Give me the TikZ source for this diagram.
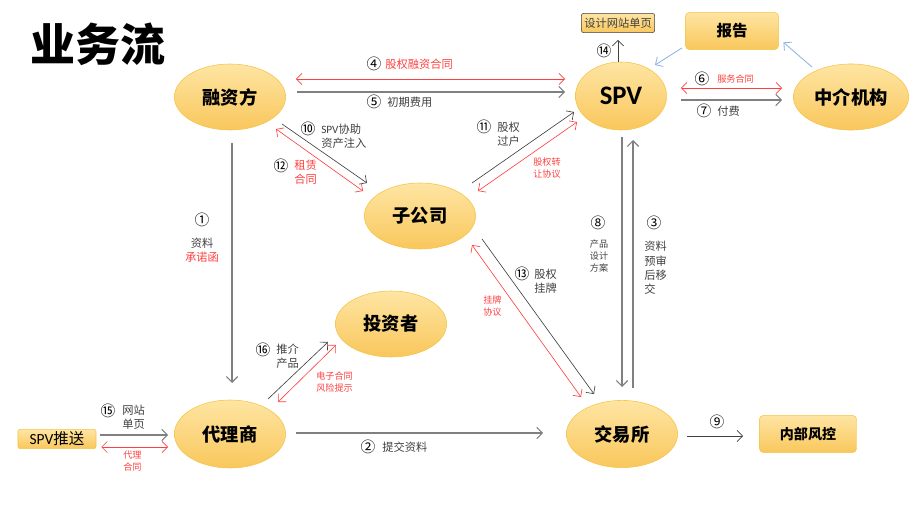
\documentclass[tikz,border=0pt]{standalone}
\usepackage{fontspec}
\setmainfont{Noto Sans CJK SC}
\newfontfamily\lat{Carlito}
\usetikzlibrary{positioning, arrows.meta, shapes.geometric, calc}
\definecolor{FillTop}{RGB}{254,229,163}
\definecolor{FillBot}{RGB}{249,199,92}
\definecolor{EdgeColor}{RGB}{246,196,72}
\definecolor{LineGray}{RGB}{128,128,128}
\definecolor{LineDark}{RGB}{64,64,64}
\definecolor{LineRed}{RGB}{255,64,64}
\definecolor{LineBlue}{RGB}{141,180,226}
\definecolor{TextGray}{RGB}{64,64,64}
\tikzstyle{party} = [ellipse, draw=EdgeColor, top color=FillTop, bottom color=FillBot, minimum width=2.78cm, minimum height=1.65cm, inner sep=0pt, font=\fontsize{13}{15}\selectfont\bfseries]
\tikzstyle{tag} = [rectangle, rounded corners=3pt, draw=EdgeColor, top color=FillTop, bottom color=FillBot, inner sep=0pt]
\tikzstyle{arrow} = [LineGray, line width=0.8pt, -{Straight Barb[length=4pt,width=8pt]}]
\tikzstyle{thinarrow} = [LineDark, line width=0.45pt, -{Straight Barb[length=4pt,width=8pt]}]
\tikzstyle{redarrow} = [LineRed, line width=0.45pt, {Straight Barb[length=4pt,width=8pt]}-{Straight Barb[length=4pt,width=8pt]}]
\tikzstyle{bluearrow} = [LineBlue, line width=0.6pt, -{Straight Barb[length=4pt,width=8pt]}]
\tikzstyle{num} = [inner sep=0pt, font=\fontsize{10.5}{12}\selectfont]
\tikzstyle{note} = [inner sep=0pt, anchor=west, align=left, TextGray, font=\fontsize{8}{10}\selectfont]
\tikzstyle{rednote} = [inner sep=0pt, anchor=west, align=left, LineRed, font=\fontsize{6.5}{8}\selectfont]

\begin{document}
\begin{tikzpicture}[x=0.025cm, y=-0.025cm]
    \useasboundingbox (0,0) rectangle (920,518);
    % title
    \node[font=\fontsize{32}{36}\selectfont\bfseries] (title) at (98,44) {业务流};

    % parties
    \node[party] (rzf) at (230,97) {融资方};
    \node[party, minimum width=2.28cm, minimum height=1.7cm, font=\fontsize{19}{22}\selectfont\lat\bfseries] (spv) at (621,96) {SPV};
    \node[party, minimum width=2.88cm] (zj) at (851,97) {中介机构};
    \node[party] (zgs) at (420,216) {子公司};
    \node[party] (tzz) at (391,324) {投资者};
    \node[party, minimum height=1.7cm] (dls) at (230,434) {代理商};
    \node[party, minimum height=1.68cm] (jys) at (622,434) {交易所};

    % boxes
    \node[tag, minimum width=2.33cm, minimum height=0.93cm, font=\fontsize{11}{13}\selectfont\bfseries] (bg) at (732,31) {报告};
    \node[tag, minimum width=2.43cm, minimum height=0.93cm, font=\fontsize{10}{12}\selectfont\bfseries] (fk) at (808,434) {内部风控};
    \node[tag, rounded corners=1.5pt, minimum width=1.83cm, minimum height=0.48cm, TextGray, font=\fontsize{8}{10}\selectfont] (sj) at (618,23) {设计网站单页};
    \node[tag, rounded corners=1.5pt, minimum width=1.95cm, minimum height=0.48cm, font=\fontsize{11}{13}\selectfont] (ts) at (57,439) {{\lat SPV}推送};

    % connectors
    \draw[redarrow] ([shift={(10,-18)}]rzf.east) -- ([shift={(-10,-17)}]spv.west);
    \draw[arrow] ([shift={(11,-5)}]rzf.east) -- ([shift={(-10,-4)}]spv.west);
    \draw[redarrow] ([shift={(14,-8)}]spv.east) -- ([shift={(-11,-9)}]zj.west);
    \draw[arrow] ([shift={(14,4)}]spv.east) -- ([shift={(-11,3)}]zj.west);
    \draw[thinarrow] ([shift={(-3,0)}]spv.north) -- ([shift={(0,7)}]sj.south);
    \draw[bluearrow] ([shift={(-3,-2)}]bg.south west) -- ([shift={(34,-31)}]spv.center);
    \draw[bluearrow] ([shift={(-39,-30)}]zj.center) -- ([shift={(4.5,-7.5)}]bg.south east);
    \draw[thinarrow] ([shift={(52,27)}]rzf.center) -- ([shift={(-53,-33)}]zgs.center);
    \draw[redarrow] ([shift={(46,32)}]rzf.center) -- ([shift={(-57,-25)}]zgs.center);
    \draw[thinarrow] ([shift={(52,-33)}]zgs.center) -- ([shift={(-47,16)}]spv.center);
    \draw[redarrow] ([shift={(58,-25)}]zgs.center) -- ([shift={(-44,26)}]spv.center);
    \draw[thinarrow] ([shift={(62,23)}]zgs.center) -- ([shift={(-28,-40)}]jys.center);
    \draw[redarrow] ([shift={(52,29)}]zgs.center) -- ([shift={(-41,-37)}]jys.center);
    \draw[arrow] ([shift={(1,41)}]spv.center) -- ([shift={(0,-47)}]jys.center);
    \draw[arrow] ([shift={(11,-46)}]jys.center) -- ([shift={(12,44)}]spv.center);
    \draw[arrow] ([shift={(2,46)}]rzf.center) -- ([shift={(2,-51)}]dls.center);
    \draw[thinarrow] ([shift={(38,-35)}]dls.center) -- ([shift={(-63,18)}]tzz.center);
    \draw[redarrow] ([shift={(48,-32)}]dls.center) -- ([shift={(-55,21)}]tzz.center);
    \draw[arrow] ([shift={(10,-1)}]dls.east) -- ([shift={(-23,-1)}]jys.west);
    \draw[thinarrow] ([shift={(9,2)}]jys.east) -- ([shift={(-16,2)}]fk.west);
    \draw[arrow] ([shift={(4,-4)}]ts.east) -- ([shift={(-6,1)}]dls.west);
    \draw[redarrow] ([shift={(5,8)}]ts.east) -- ([shift={(-6,13)}]dls.west);

    % labels
    \node[num] (n4) at (374,64) {④};
    \node[note, LineRed] (t4) at (385,64) {股权融资合同};
    \node[num] (n5) at (374,102) {⑤};
    \node[note] (t5) at (387,102) {初期费用};
    \node[num] (n6) at (702,79) {⑥};
    \node[rednote] (t6) at (717,79) {服务合同};
    \node[num] (n7) at (704,111) {⑦};
    \node[note] (t7) at (717,111) {付费};
    \node[num] (n14) at (604,51) {⑭};
    \node[num] (n10) at (308,129) {⑩};
    \node[note] (t10) at (321,136) {{\lat SPV}协助\\资产注入};
    \node[num] (n12) at (281,166) {⑫};
    \node[note, LineRed] (t12) at (294,172) {租赁\\合同};
    \node[num] (n11) at (484,127) {⑪};
    \node[note] (t11) at (497,134) {股权\\过户};
    \node[rednote] (t11b) at (533,168) {股权转\\让协议};
    \node[num] (n8) at (598,223) {⑧};
    \node[note, anchor=center, font=\fontsize{6.5}{8.2}\selectfont] (t8) at (599,256) {产品\\设计\\方案};
    \node[num] (n3) at (654,223) {③};
    \node[note, font=\fontsize{8}{10.3}\selectfont] (t3) at (644,268) {资料\\预审\\后移\\交};
    \node[num] (n13) at (522,274) {⑬};
    \node[note] (t13) at (534,281) {股权\\挂牌};
    \node[rednote] (t13b) at (483,306) {挂牌\\协议};
    \node[num] (n1) at (202,220) {①};
    \node[note, anchor=center, align=center] (t1) at (202,250) {资料\\\textcolor{LineRed}{承诺函}};
    \node[num] (n16) at (263,350) {⑯};
    \node[note] (t16) at (276,356) {推介\\产品};
    \node[rednote] (t16b) at (316,382) {电子合同\\风险提示};
    \node[num] (n2) at (368,447) {②};
    \node[note] (t2) at (382,447) {提交资料};
    \node[num] (n9) at (717,422) {⑨};
    \node[num] (n15) at (108,411) {⑮};
    \node[note] (t15) at (122,417) {网站\\单页};
    \node[rednote] (t15b) at (123,461) {代理\\合同};
\end{tikzpicture}
\end{document}
